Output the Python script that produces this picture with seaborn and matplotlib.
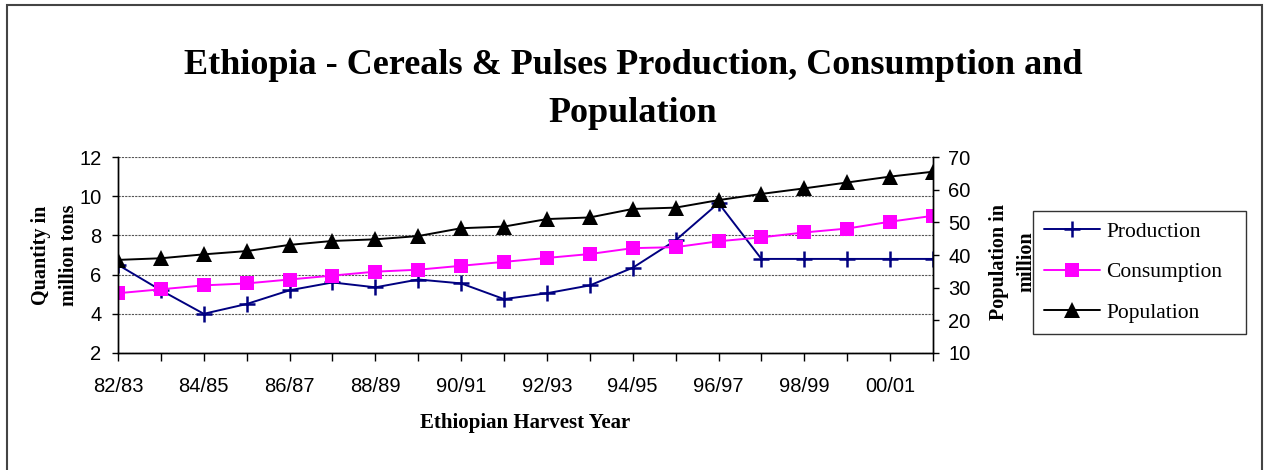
#!/usr/bin/env python3
"""
plot.py - Ethiopia cereals & pulses production, consumption and population.
"""
import matplotlib
matplotlib.use('Agg')

import matplotlib.patches as mpl_patches
import matplotlib.pyplot as plt
import seaborn as sns

# -- Data -- #

YEARS = [
    '82/83', '83/84', '84/85', '85/86', '86/87', '87/88', '88/89',
    '89/90', '90/91', '91/92', '92/93', '93/94', '94/95', '95/96',
    '96/97', '97/98', '98/99', '99/00', '00/01', '01/02',
]

# million tons
PRODUCTION = [
    6.5, 5.2, 4.0, 4.5, 5.2, 5.6, 5.35, 5.75, 5.55, 4.75,
    5.05, 5.45, 6.35, 7.75, 9.65, 6.8, 6.8, 6.8, 6.8, 6.8,
]
CONSUMPTION = [
    5.05, 5.25, 5.45, 5.55, 5.75, 5.95, 6.15, 6.25, 6.45, 6.65,
    6.85, 7.05, 7.35, 7.4, 7.7, 7.9, 8.15, 8.35, 8.7, 9.0,
]

# million people
POPULATION = [
    38.5, 39.0, 40.2, 41.2, 43.1, 44.3, 44.8, 45.8, 48.2, 48.7,
    51.0, 51.5, 54.1, 54.5, 56.8, 58.7, 60.4, 62.2, 64.0, 65.5,
]

# -- Style -- #

W, H = 1266, 470
SANS = 'Liberation Sans'
SERIF = 'Liberation Serif'


def main():
    sns.set_style('ticks')
    plt.rcParams['font.family'] = [SANS, 'DejaVu Sans']
    plt.rcParams['text.color'] = 'black'
    plt.rcParams['axes.labelcolor'] = 'black'

    fig = plt.figure(figsize=(W / 100, H / 100), dpi=100)
    ax = fig.add_axes([118 / W, 1 - 353 / H, (933 - 118) / W, 196 / H])
    ax2 = ax.twinx()

    sns.lineplot(x=YEARS, y=PRODUCTION, ax=ax, color='#000080',
                 marker='+', markersize=12, markeredgewidth=1.8,
                 markeredgecolor='#000080',
                 linewidth=1.4, label='Production', legend=False)
    sns.lineplot(x=YEARS, y=CONSUMPTION, ax=ax, color='#FF00FF',
                 marker='s', markersize=10, markeredgewidth=0,
                 linewidth=1.4, label='Consumption', legend=False)
    sns.lineplot(x=YEARS, y=POPULATION, ax=ax2, color='black',
                 marker='^', markersize=11, markeredgewidth=0,
                 linewidth=1.4, label='Population', legend=False)

    # Axes limits and ticks.
    ax.set_xlim(0, len(YEARS) - 1)
    ax.set_ylim(2, 12)
    ax.set_yticks(range(2, 13, 2))
    ax2.set_ylim(10, 70)
    ax2.set_yticks(range(10, 71, 10))
    ax.set_xticks(range(len(YEARS)))
    ax.set_xticklabels([y if i % 2 == 0 else '' for i, y in enumerate(YEARS)])

    ax.set_xlabel('')
    ax.set_ylabel('')
    ax2.set_ylabel('')

    ax.yaxis.grid(True, linestyle=(0, (2, 1)), color='#555555', linewidth=0.8)
    ax.set_axisbelow(True)

    for a in (ax, ax2):
        a.spines['top'].set_visible(False)
        for s in ('left', 'right', 'bottom'):
            a.spines[s].set_color('black')
            a.spines[s].set_linewidth(1.0)

    ax.tick_params(axis='x', direction='out', length=6, width=1,
                   labelsize=14.5, pad=11, colors='black')
    ax.tick_params(axis='y', direction='out', length=4, width=1,
                   labelsize=14.5, pad=8, colors='black')
    ax2.tick_params(axis='y', direction='out', length=4, width=1,
                    labelsize=14.5, pad=7, colors='black')

    # Titles and labels.
    title_kw = dict(ha='center', va='center', fontsize=26, fontweight='bold',
                    family=SERIF, color='black')
    fig.text(0.5, 1 - 65 / H,
             'Ethiopia - Cereals & Pulses Production, Consumption and',
             **title_kw)
    fig.text(0.5, 1 - 113 / H, 'Population', **title_kw)
    fig.text(525 / W, 1 - 423 / H, 'Ethiopian Harvest Year',
             ha='center', va='center', fontsize=15, fontweight='bold',
             family=SERIF, color='black')
    fig.text(55 / W, 1 - 255 / H, 'Quantity in\nmillion tons',
             ha='center', va='center', rotation=90, fontsize=14.5,
             fontweight='bold', family=SERIF, linespacing=1.5,
             color='black')
    fig.text(1013 / W, 1 - 262 / H, 'Population in\nmillion',
             ha='center', va='center', rotation=90, fontsize=14.5,
             fontweight='bold', family=SERIF, linespacing=1.5,
             color='black')

    # Legend.
    handles = ax.get_lines()[:2] + ax2.get_lines()[:1]
    leg = fig.legend(handles, ['Production', 'Consumption', 'Population'],
                     loc='upper left', mode='expand',
                     bbox_to_anchor=(1033 / W, 1 - 333 / H, 213 / W, 122 / H),
                     borderaxespad=0,
                     prop={'family': SERIF, 'size': 15.5},
                     frameon=True, fancybox=False, edgecolor='black',
                     handlelength=2.6, handletextpad=0.3, labelspacing=0.95,
                     borderpad=0.5)
    leg.get_frame().set_linewidth(1.0)
    for t in leg.get_texts():
        t.set_color('black')

    # Outer chart border.
    fig.patches.append(mpl_patches.Rectangle(
        (7 / W, -0.02), (1262 - 7) / W, 1.02 - 5 / H,
        transform=fig.transFigure, fill=False,
        edgecolor='#444444', linewidth=1.5,
    ))

    fig.savefig('out.png', dpi=100)


if __name__ == '__main__':
    main()
